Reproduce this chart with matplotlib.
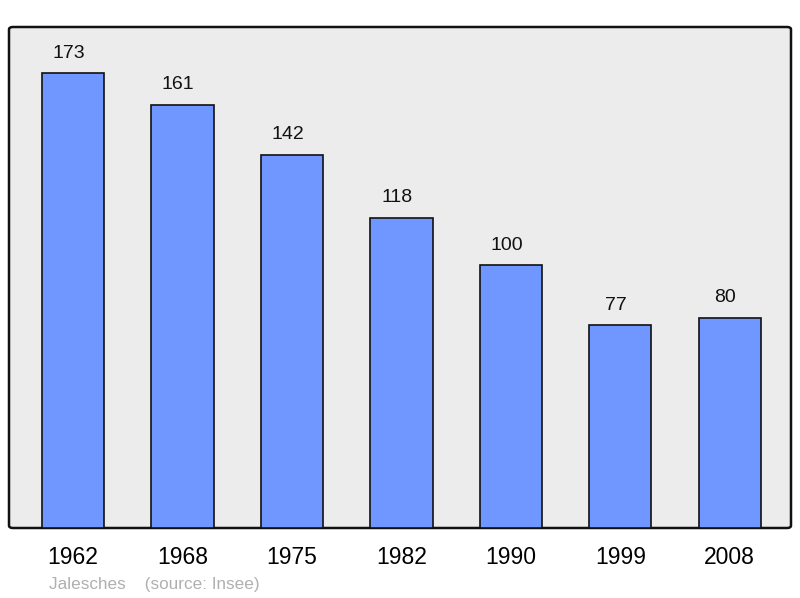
import matplotlib
matplotlib.use("Agg")
import matplotlib.pyplot as plt
from matplotlib.patches import FancyBboxPatch

years = ["1962", "1968", "1975", "1982", "1990", "1999", "2008"]
population = [173, 161, 142, 118, 100, 77, 80]

plt.rcParams['font.family'] = ['Liberation Sans', 'DejaVu Sans']

fig = plt.figure(figsize=(8, 5.98), dpi=100)
ax = fig.add_axes([9/800, 1-528/598, 782/800, 501/598])
ax.set_facecolor('none')
bg = FancyBboxPatch((0, 0), 1, 1, boxstyle="round,pad=0,rounding_size=0.005",
                    transform=ax.transAxes, facecolor='#ececec', edgecolor='#111111',
                    linewidth=1.8, zorder=0, clip_on=False)
ax.add_patch(bg)

x = list(range(len(years)))
bars = ax.bar(x, population, width=0.57, color='#7097ff', edgecolor='#111111', linewidth=1.2, zorder=2)
for xi, v in zip(x, population):
    ax.text(xi - 0.04, v + 7.6, str(v), ha='center', va='center', fontsize=14, color='#111111', zorder=3)

ax.set_xlim(-0.585, 6.56)
ax.set_ylim(0, 190.5)
for s in ax.spines.values():
    s.set_visible(False)
ax.set_yticks([])
ax.set_xticks(x)
ax.set_xticklabels(years, fontsize=16.5)
ax.tick_params(axis='x', length=0, pad=13)

fig.text(49/800, 1-584/598, "Jalesches    (source: Insee)", fontsize=12.3, color='#b0b0b0', va='center', ha='left')

fig.savefig("out.png", dpi=100)
